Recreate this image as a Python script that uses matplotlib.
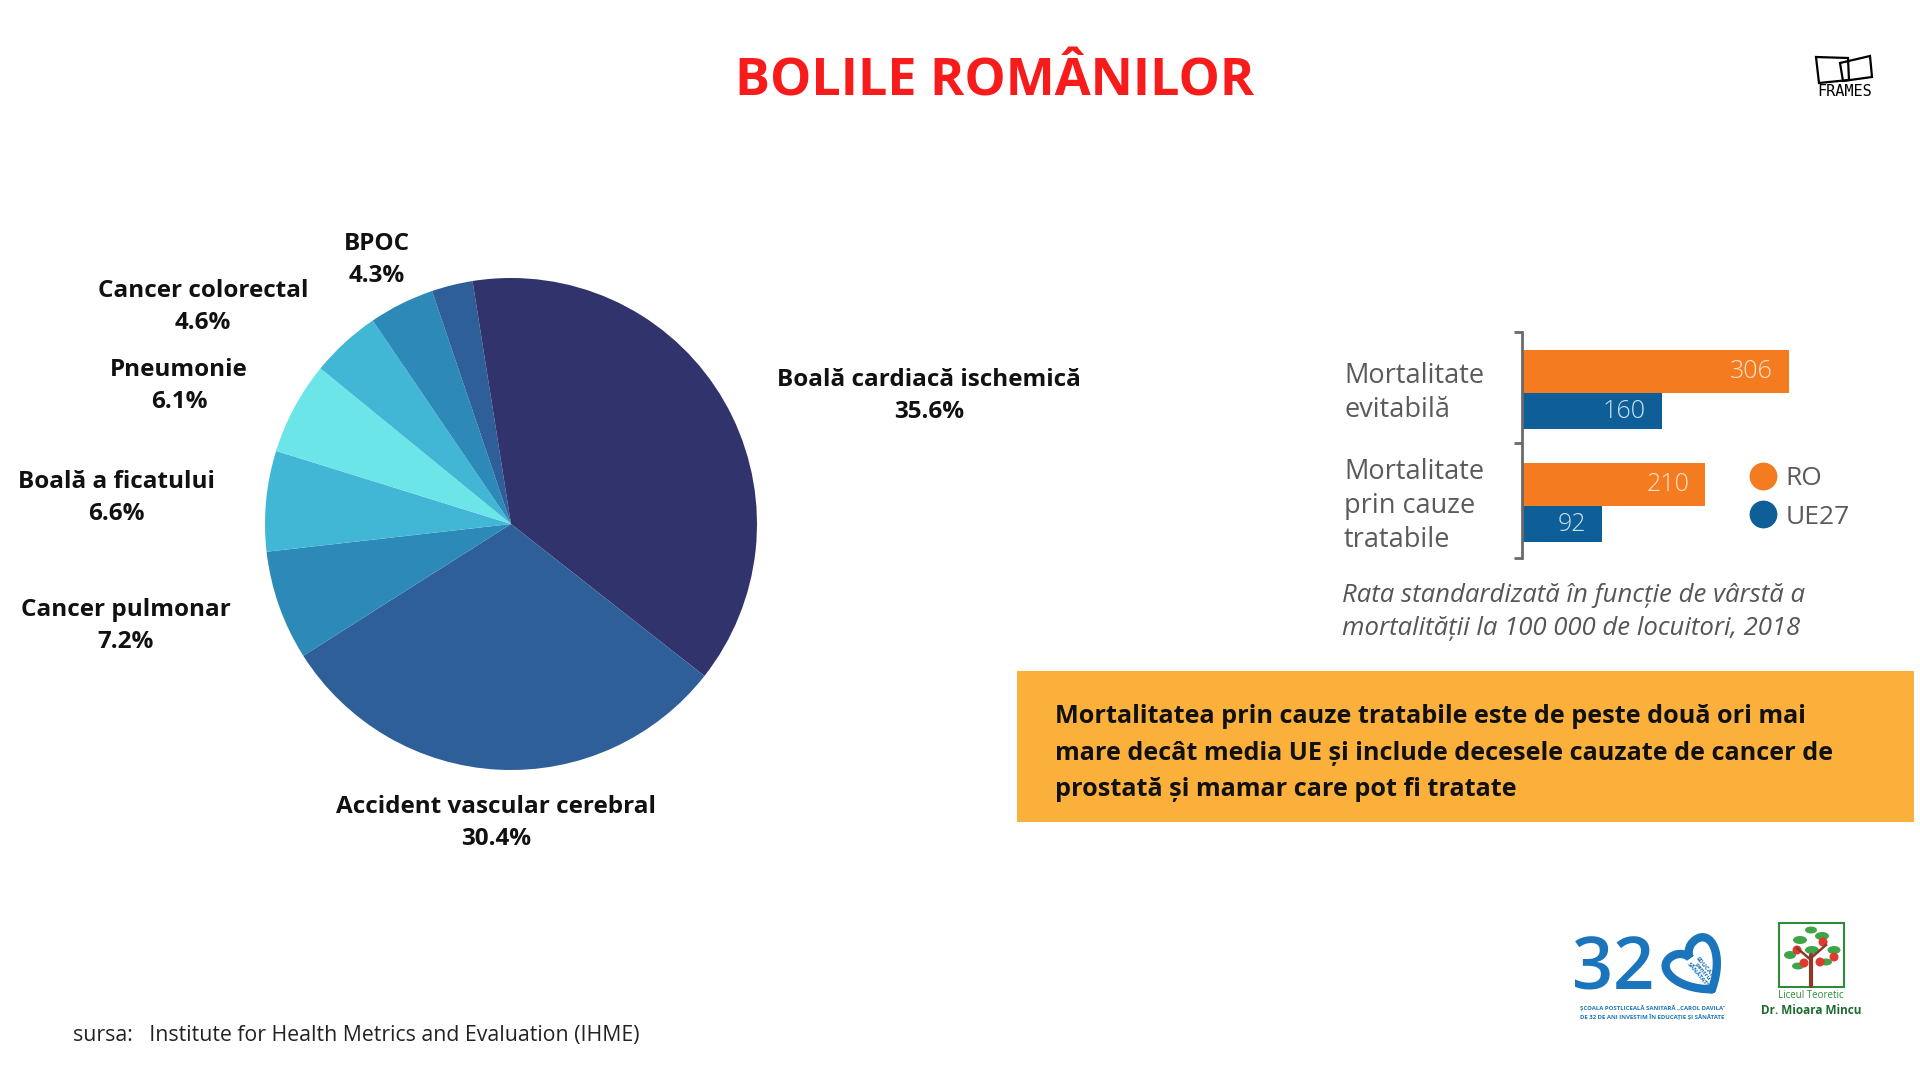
import matplotlib
matplotlib.use("Agg")
import matplotlib.pyplot as plt
from matplotlib.patches import Rectangle, Polygon, Circle, Ellipse, PathPatch
from matplotlib.path import Path
from matplotlib.lines import Line2D
import matplotlib.transforms as mtransforms

plt.rcParams['font.family'] = ['Open Sans', 'DejaVu Sans']

# pie data
causes = ["Boală cardiacă ischemică", "Accident vascular cerebral", "Cancer pulmonar",
          "Boală a ficatului", "Pneumonie", "Cancer colorectal", "BPOC", "", ""]
shares = [35.6, 30.4, 7.2, 6.6, 6.1, 4.6, 4.3, 2.7, 2.5]
pie_colors = ["#31346c", "#2e5f98", "#2d8ab8", "#41b6d5", "#6ce5e8",
              "#41b6d5", "#2d8ab8", "#2e5f98", "#31346c"]
label_xy = [(929, 396), (496, 823), (126, 626), (116, 498), (179, 386), (203, 307), (377, 260)]

# bar data
groups = ["Mortalitate\nevitabilă", "Mortalitate\nprin cauze\ntratabile"]
ro_values = [306, 210]
ue_values = [160, 92]
ro_color = "#f47b20"
ue_color = "#0e5e97"

W, H = 1920, 1080
fig = plt.figure(figsize=(19.2, 10.8), dpi=100)
fig.patch.set_facecolor("white")

# canvas in pixel coordinates for text and decorations
cv = fig.add_axes([0, 0, 1, 1])
cv.set_xlim(0, W)
cv.set_ylim(H, 0)
cv.axis("off")
cv.patch.set_alpha(0)

cv.text(995, 82, "BOLILE ROMÂNILOR", color="#f71b1c", fontsize=37.5, fontweight="bold",
        ha="center", va="center")

# ---- pie ----
cx, cy, r = 511, 524, 246
pax = fig.add_axes([(cx - r) / W, 1 - (cy + r) / H, 2 * r / W, 2 * r / H])
pax.pie(shares, colors=pie_colors, startangle=90, counterclock=False, radius=1,
        wedgeprops=dict(linewidth=0))
pax.set_xlim(-1, 1)
pax.set_ylim(-1, 1)
pax.patch.set_alpha(0)

for name, val, (x, y) in zip(causes, shares, label_xy):
    cv.text(x, y, f"{name}\n{val}%", ha="center", va="center", fontsize=17.5,
            fontweight="bold", color="#111111", linespacing=1.45)

# ---- bars ----
bx0, by0, by1 = 1522, 332, 558
px_per_unit = 0.872
xmax = 400
bax = fig.add_axes([bx0 / W, 1 - by1 / H, xmax * px_per_unit / W, (by1 - by0) / H])
bax.patch.set_alpha(0)
pos = list(range(len(groups)))
bax.barh(pos, ro_values, height=0.38, color=ro_color, align="center")
bax.barh([p + 0.35 for p in pos], ue_values, height=0.32, color=ue_color, align="center")
bax.set_xlim(0, xmax)
bax.set_ylim(1.65, -0.35)
for s in ["top", "right", "bottom"]:
    bax.spines[s].set_visible(False)
bax.spines["left"].set_color("#6a6a6a")
bax.spines["left"].set_linewidth(2)
bax.set_xticks([])
bax.set_yticks([-0.35, 0.63, 1.65])
bax.set_yticklabels([])
bax.tick_params(axis="y", direction="out", length=6, width=2, color="#6a6a6a")

for p, v in zip(pos, ro_values):
    bax.annotate(str(v), xy=(v, p), xytext=(-16, 0), textcoords="offset pixels",
                 ha="right", va="center", fontsize=18, fontweight="light", color="#fde3cc")
for p, v in zip(pos, ue_values):
    bax.annotate(str(v), xy=(v, p + 0.35), xytext=(-16, 0), textcoords="offset pixels",
                 ha="right", va="center", fontsize=18, fontweight="light", color="#cfe0ef")
for p, g in zip(pos, groups):
    bax.annotate(g, xy=(0, p + 0.19), xytext=(-178, 0), textcoords="offset pixels",
                 ha="left", va="center", fontsize=19.5, color="#5a5a5a", linespacing=1.28)

handles = [Line2D([], [], marker="o", ls="", color=ro_color, markersize=19),
           Line2D([], [], marker="o", ls="", color=ue_color, markersize=19)]
fig.legend(handles, ["RO", "UE27"], loc="center left", bbox_to_anchor=(1750 / W, 1 - 498 / H),
           frameon=False, fontsize=19, handlelength=1.0, handletextpad=0.35,
           borderpad=0, borderaxespad=0, labelspacing=0.5, labelcolor="#5a5a5a")

cv.text(1342, 612, "Rata standardizată în funcție de vârstă a\nmortalității la 100 000 de locuitori, 2018",
        ha="left", va="center", fontsize=18.5, style="italic",
        color="#555555", linespacing=1.45)

# ---- orange note ----
cv.add_patch(Rectangle((1017, 671), 1914 - 1017, 822 - 671, color="#fbb03b", lw=0))
cv.text(1055, 753, "Mortalitatea prin cauze tratabile este de peste două ori mai\n"
        "mare decât media UE și include decesele cauzate de cancer de\n"
        "prostată și mamar care pot fi tratate",
        ha="left", va="center", fontsize=18.2, fontweight="bold", color="#111111", linespacing=1.62)

cv.text(73, 1036, "sursa:   Institute for Health Metrics and Evaluation (IHME)",
        ha="left", va="center", fontsize=15.3, color="#222222")

# ---- logos ----
cv.add_patch(Polygon([(1816, 57), (1848, 58), (1849, 80), (1819, 83)], closed=True,
                     fill=False, ec="black", lw=1.6))
cv.add_patch(Polygon([(1840, 63), (1870, 56), (1872, 77), (1843, 81)], closed=True,
                     fill=False, ec="black", lw=1.6))
cv.text(1845, 92, "FRAMES", ha="center", va="center", fontsize=11, color="black",
        family="DejaVu Sans Mono")

blue_logo = "#1b75bc"
cv.text(1613, 970, "32", ha="center", va="center", fontsize=52, color=blue_logo,
        fontweight="semibold")
heart = Path([(0, 26), (-30, 5), (-34, -24), (-15, -24), (-5, -24), (0, -16), (0, -12),
              (0, -16), (5, -24), (15, -24), (34, -24), (30, 5), (0, 26)],
             [Path.MOVETO] + [Path.CURVE4] * 12)
tr = mtransforms.Affine2D().rotate_deg(-35).translate(1697, 968) + cv.transData
cv.add_patch(PathPatch(heart, fill=False, ec=blue_logo, lw=6, transform=tr, capstyle="round"))
cv.text(1702, 972, "EDUCAȚIE\npentru\nSĂNĂTATE", ha="center", va="center", fontsize=4.5,
        color=blue_logo, rotation=-50, fontweight="bold", linespacing=1.0)
cv.text(1580, 1008, "ȘCOALA POSTLICEALĂ SANITARĂ „CAROL DAVILA\"", ha="left", va="center",
        fontsize=4.3, color=blue_logo, fontweight="bold")
cv.text(1580, 1017, "DE 32 DE ANI INVESTIM ÎN EDUCAȚIE ȘI SĂNĂTATE", ha="left", va="center",
        fontsize=4.3, color=blue_logo, fontweight="bold")

green = "#2e8b3a"
cv.add_patch(Rectangle((1779, 923), 65, 64, fill=False, ec=green, lw=1.5))
for (x, y, w, h) in [(1800, 940, 14, 8), (1822, 936, 14, 8), (1790, 955, 12, 8), (1834, 950, 13, 8),
                     (1812, 950, 14, 8), (1826, 962, 12, 7), (1798, 966, 12, 7), (1811, 930, 12, 7)]:
    cv.add_patch(Ellipse((x, y), w, h, color="#3fa548", lw=0))
cv.plot([1811, 1811], [986, 955], color="#8b3a2a", lw=3, solid_capstyle="round")
cv.plot([1811, 1797], [960, 948], color="#8b3a2a", lw=1.8)
cv.plot([1811, 1826], [958, 945], color="#8b3a2a", lw=1.8)
for (x, y) in [(1797, 950), (1823, 942), (1834, 957), (1804, 963), (1820, 962)]:
    cv.add_patch(Circle((x, y), 4.5, color="#e03a2e", lw=0))
cv.text(1811, 996, "Liceul Teoretic", ha="center", va="center", fontsize=7, color=green)
cv.text(1811, 1010, "Dr. Mioara Mincu", ha="center", va="center", fontsize=8.5,
        color="#1d6b2e", fontweight="bold")

fig.savefig("out.png", dpi=100)
